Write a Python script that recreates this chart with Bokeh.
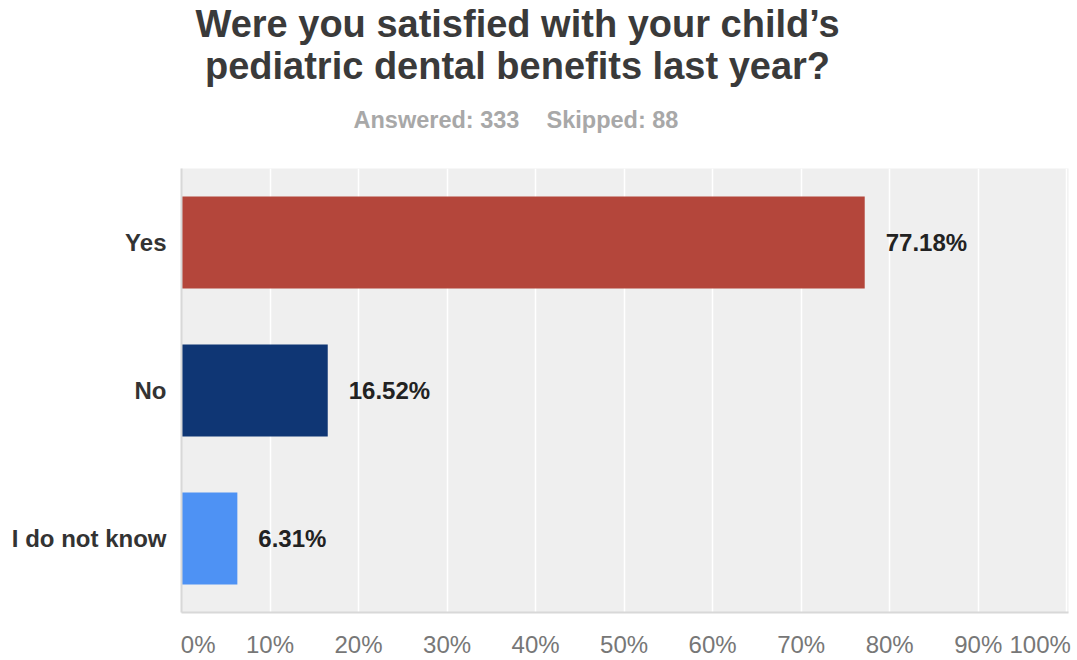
from bokeh.plotting import figure
from bokeh.models import ColumnDataSource, FactorRange, Range1d, FixedTicker
from bokeh.layouts import column
from bokeh.core.properties import value
from bokeh.embed import file_html
from bokeh.resources import INLINE

# Data
categories = ["Yes", "No", "I do not know"]
percents = [77.18, 16.52, 6.31]
colors = ["#b4463b", "#0f3674", "#4e92f4"]
value_labels = ["77.18%", "16.52%", "6.31%"]
x_ticks = [0, 10, 20, 30, 40, 50, 60, 70, 80, 90, 100]
x_tick_labels = ["0%", "10%", "20%", "30%", "40%", "50%", "60%", "70%", "80%", "90%", "100%"]
title_lines = ["Were you satisfied with your child\u2019s", "pediatric dental benefits last year?"]
answered_text = "Answered: 333"
skipped_text = "Skipped: 88"

FONT = "Liberation Sans"

W, H = 1077, 660
HEAD = 168
FL, FR, FB = 181, 1068, 612

# ---------- header (title + counts) ----------
hdr = figure(width=W, height=HEAD, x_range=Range1d(FL, FR), y_range=Range1d(HEAD, 0),
             x_axis_type=None, y_axis_type=None,
             output_backend="svg", toolbar_location=None,
             min_border_left=FL, min_border_right=W - FR, min_border_top=0, min_border_bottom=0)
hdr.outline_line_color = None
hdr.background_fill_color = "white"
hdr.border_fill_color = "white"
hdr.grid.visible = False

hdr.text(x=[517, 517], y=[23, 65], text=title_lines,
         text_align="center", text_baseline="alphabetic",
         text_font=value(FONT), text_font_style="bold",
         text_font_size="38px", text_color="#3a3a3a")
hdr.text(x=[353, 546], y=[119, 119], text=[answered_text, skipped_text],
         text_align="left", text_baseline="alphabetic",
         text_font=value(FONT), text_font_style="bold",
         text_font_size="23.5px", text_color="#a8a8a8")

# ---------- chart ----------
source = ColumnDataSource(dict(cat=categories, pct=percents, color=colors, lab=value_labels))

p = figure(
    width=W, height=H - HEAD,
    y_range=FactorRange(factors=list(reversed(categories)), range_padding=0),
    x_range=Range1d(0, 100.2),
    output_backend="svg", toolbar_location=None,
    min_border_left=FL, min_border_right=W - FR,
    min_border_top=0, min_border_bottom=H - FB,
)
p.background_fill_color = "#efefef"
p.border_fill_color = "white"
p.outline_line_color = None

p.hbar(y="cat", right="pct", left=0, height=0.62, fill_color="color",
       line_color=None, source=source)

p.text(x="pct", y="cat", text="lab", source=source, x_offset=21,
       text_align="left", text_baseline="middle",
       text_font=value(FONT), text_font_style="bold",
       text_font_size="24px", text_color="#222222")

# Grid
p.ygrid.grid_line_color = None
p.xgrid.grid_line_color = "white"
p.xgrid.grid_line_width = 1.5
p.xgrid.ticker = FixedTicker(ticks=x_ticks)

# X axis
xa = p.xaxis[0]
xa.ticker = FixedTicker(ticks=x_ticks)
overrides = {t: l for t, l in zip(x_ticks, x_tick_labels)}
overrides[0] = "\u00a0" * 5 + x_tick_labels[0]
overrides[100] = x_tick_labels[-1] + "\u00a0"
xa.major_label_overrides = overrides
xa.major_tick_line_color = None
xa.minor_tick_line_color = None
xa.axis_line_color = "#d8d8d8"
xa.axis_line_width = 2
xa.major_label_text_font = FONT
xa.major_label_text_font_size = "24px"
xa.major_label_text_color = "#777777"
xa.major_label_standoff = 12

# Y axis
ya = p.yaxis[0]
ya.major_tick_line_color = None
ya.minor_tick_line_color = None
ya.axis_line_color = "#d8d8d8"
ya.axis_line_width = 2
ya.major_label_text_font = FONT
ya.major_label_text_font_style = "bold"
ya.major_label_text_font_size = "24px"
ya.major_label_text_color = "#333333"
ya.major_label_standoff = 9

layout = column(hdr, p, spacing=0)
open("out.html", "w").write(file_html(layout, INLINE))
